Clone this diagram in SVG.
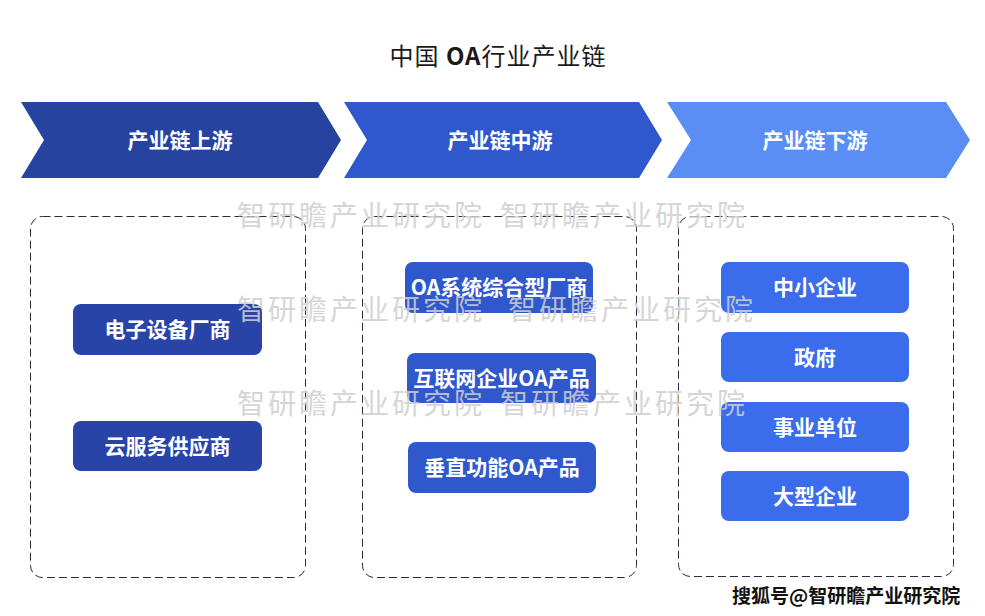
<svg xmlns="http://www.w3.org/2000/svg" width="985" height="616" viewBox="0 0 985 616">
<style>
.t{font-family:"Noto Sans CJK SC","Noto Sans",sans-serif;}
.lbl{font-family:"Noto Sans CJK SC","Noto Sans",sans-serif;font-size:21px;font-weight:bold;fill:#ffffff;text-anchor:middle;}
.box{fill:none;stroke:#2a2a3c;stroke-width:1;stroke-dasharray:8 4;}
.n1{fill:#2844A8;}
.n2{fill:#2F58CD;}
.n3{fill:#3A6CEB;}
.wm{font-family:"Noto Sans CJK SC",sans-serif;font-size:28px;letter-spacing:3px;fill:#cfcfcf;opacity:0.85;}
</style>
<rect width="985" height="616" fill="#ffffff"/>
<text class="t" x="498" y="65" font-size="24" text-anchor="middle" fill="#1a1a1a" letter-spacing="1">中国 <tspan font-weight="bold">OA</tspan>行业产业链</text>

<g id="stage-up">
<polygon points="21,102 318,102 341,140 318,178 21,178 44,140" fill="#2743A0"/>
<text class="lbl" x="180" y="148">产业链上游</text>
</g>
<g id="stage-mid">
<polygon points="344,102 639,102 662,140 639,178 344,178 367,140" fill="#2F58CD"/>
<text class="lbl" x="500" y="148">产业链中游</text>
</g>
<g id="stage-down">
<polygon points="667,102 946,102 970,140 946,178 667,178 691,140" fill="#5B8EF5"/>
<text class="lbl" x="815" y="148">产业链下游</text>
</g>

<g id="connectors"></g>

<g id="group-up">
<rect class="box" x="30.5" y="216.5" width="275" height="361" rx="12"/>
<g id="n-electronics"><rect class="n1" x="73" y="304" width="189" height="51" rx="8"/><text class="lbl" x="167.5" y="337">电子设备厂商</text></g>
<g id="n-cloud"><rect class="n1" x="73" y="421" width="189" height="50" rx="8"/><text class="lbl" x="167.5" y="454">云服务供应商</text></g>
</g>

<g id="group-mid">
<rect class="box" x="362.5" y="216.5" width="274" height="361" rx="12"/>
<g id="n-oa-vendor"><rect class="n2" x="405" y="262" width="188" height="51" rx="8"/><text class="lbl" x="499" y="295">OA系统综合型厂商</text></g>
<g id="n-internet"><rect class="n2" x="407" y="353" width="189" height="50" rx="8"/><text class="lbl" x="501.5" y="386">互联网企业OA产品</text></g>
<g id="n-vertical"><rect class="n2" x="408" y="442" width="188" height="51" rx="8"/><text class="lbl" x="502" y="475">垂直功能OA产品</text></g>
</g>

<g id="group-down">
<rect class="box" x="678.5" y="216.5" width="275" height="360" rx="12"/>
<g id="n-sme"><rect class="n3" x="721" y="262" width="188" height="51" rx="8"/><text class="lbl" x="815" y="295">中小企业</text></g>
<g id="n-gov"><rect class="n3" x="721" y="332" width="188" height="50" rx="8"/><text class="lbl" x="815" y="365">政府</text></g>
<g id="n-inst"><rect class="n3" x="721" y="402" width="188" height="50" rx="8"/><text class="lbl" x="815" y="435">事业单位</text></g>
<g id="n-large"><rect class="n3" x="721" y="471" width="188" height="50" rx="8"/><text class="lbl" x="815" y="504">大型企业</text></g>
</g>

<g id="watermarks">
<text class="wm" x="237" y="226">智研瞻产业研究院</text>
<text class="wm" x="500" y="226">智研瞻产业研究院</text>
<text class="wm" x="237" y="320">智研瞻产业研究院</text>
<text class="wm" x="508" y="320">智研瞻产业研究院</text>
<text class="wm" x="237" y="414">智研瞻产业研究院</text>
<text class="wm" x="500" y="414">智研瞻产业研究院</text>
</g>

<text class="t" x="732" y="603" font-size="19" font-weight="bold" fill="#111111" stroke="#ffffff" stroke-width="0.6" paint-order="stroke">搜狐号@智研瞻产业研究院</text>
</svg>
